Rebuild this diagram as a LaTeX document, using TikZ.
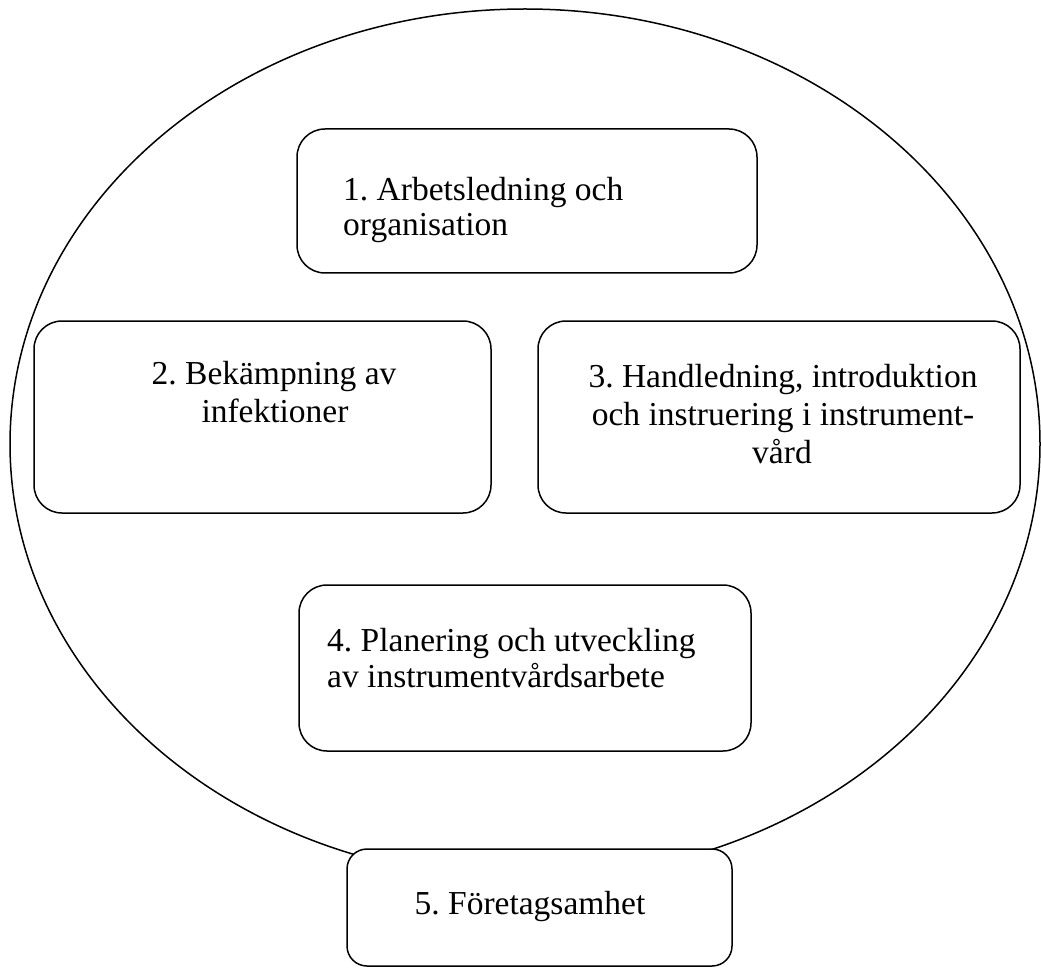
\documentclass[tikz,border=0pt]{standalone}
\usepackage{fontspec}
\setmainfont{Liberation Serif}
\frenchspacing
\begin{document}
\begin{tikzpicture}[x=1pt,y=-1pt,
  box/.style={draw, line width=1.5pt, rounded corners=28pt, inner sep=0pt, fill=white},
  lbl/.style={font=\fontsize{33.5}{38}\selectfont, inner sep=0pt}]
\useasboundingbox (0,0) rectangle (1041,968);
\draw[line width=1.5pt] (525,444) ellipse [x radius=515pt, y radius=435pt];
\node[box, minimum width=460pt, minimum height=144pt] (b1) at (527,201) {};
\node[box, minimum width=457pt, minimum height=192pt] (b2) at (262.5,417) {};
\node[box, minimum width=482pt, minimum height=192pt] (b3) at (779,417) {};
\node[box, minimum width=452pt, minimum height=166pt] (b4) at (525,668) {};
\node[box, rounded corners=20pt, minimum width=385pt, minimum height=117pt] (b5) at (539.5,907.5) {};
\node[lbl, anchor=base west] (t1a) at (343,201) {1. Arbetsledning och};
\node[lbl, anchor=base west] (t1b) at (343,236) {organisation};
\node[lbl, anchor=base] (t2a) at (274,384) {2. Bekämpning av};
\node[lbl, anchor=base] (t2b) at (275,422) {infektioner};
\node[lbl, anchor=base] (t3a) at (783,387) {3. Handledning, introduktion};
\node[lbl, anchor=base] (t3b) at (783,425) {och instruering i instrument-};
\node[lbl, anchor=base] (t3c) at (782,463) {vård};
\node[lbl, anchor=base west] (t4a) at (327,651) {4. Planering och utveckling};
\node[lbl, anchor=base west] (t4b) at (327,687) {av instrumentvårdsarbete};
\node[lbl, anchor=base] (t5) at (530,914) {5. Företagsamhet};
\end{tikzpicture}
\end{document}
